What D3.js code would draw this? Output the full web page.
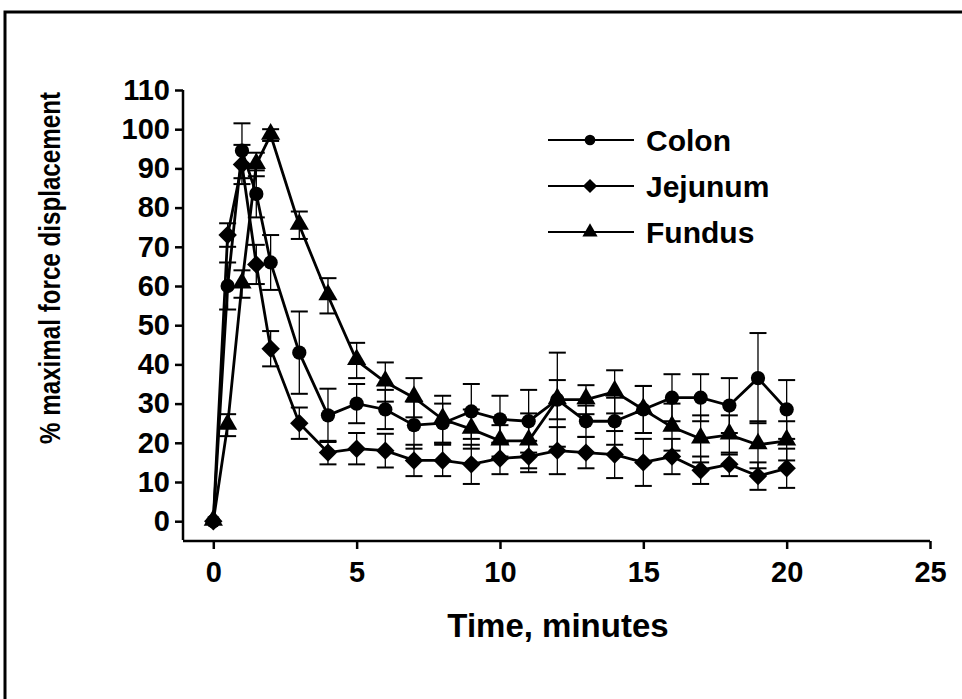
<!DOCTYPE html>
<html>
<head>
<meta charset="utf-8">
<script src="https://cdn.jsdelivr.net/npm/d3@7"></script>
<style>
  body { margin: 0; background: #fff; }
  svg { display: block; }
  text { font-family: "Liberation Sans", Arial, sans-serif; font-weight: bold; fill: #000; }
</style>
</head>
<body>
<svg class="chart" width="962" height="699"></svg>
<script>
// minutes after stimulation
var times = [0, 0.5, 1, 1.5, 2, 3, 4, 5, 6, 7, 8, 9, 10, 11, 12, 13, 14, 15, 16, 17, 18, 19, 20]

var colon     = [0, 60, 94.5, 83.5, 66, 43, 27, 30, 28.5, 24.5, 25, 28, 26, 25.5, 31, 25.5, 25.5, 28.5, 31.5, 31.5, 29.5, 36.5, 28.5]
var colon_err = [0, 6, 7, 6, 7, 10.5, 6.8, 5, 5, 6, 5, 7, 6, 8, 12, 4, 6, 6, 6, 6, 7, 11.5, 7.5]

var jejunum     = [0, 73, 91, 65.5, 44, 25, 17.5, 18.5, 18, 15.5, 15.5, 14.5, 16, 16.5, 18, 17.5, 17, 15, 16.5, 13, 14.5, 11.5, 13.5]
var jejunum_err = [0, 3, 5, 5, 4.5, 4, 3, 4, 4.3, 4, 4, 5, 4, 4, 6, 4, 6, 6, 4.5, 3.5, 3, 3.5, 5]

var fundus     = [0, 24.5, 60.5, 91, 98.5, 75.5, 57.5, 41, 35.5, 31.5, 26, 23.5, 20.5, 20.5, 31, 31, 33, 28.5, 24, 21, 22, 19.5, 20.5]
var fundus_err = [0, 2.8, 3.5, 3, 1.5, 3.5, 4.5, 4.5, 5, 5, 6, 5, 4, 7, 5, 3.7, 5.5, 6, 6, 6, 5, 6, 5]

var series_names = ["Colon", "Jejunum", "Fundus"]
var x_ticks = [0, 5, 10, 15, 20, 25]
var y_ticks = [0, 10, 20, 30, 40, 50, 60, 70, 80, 90, 100, 110]

var svg = d3.select(".chart")

// frame around the figure
svg.append("rect")
  .attr("x", 5).attr("y", 12)
  .attr("width", 970).attr("height", 700)
  .attr("fill", "none").attr("stroke", "#000").attr("stroke-width", 3)

var x_scaler = d3.scaleLinear().domain([0, 25]).range([213.3, 930])
var y_scaler = d3.scaleLinear().domain([0, 110]).range([521.2, 90])

var axis_y0 = 541   // where the x axis sits
var axis_x0 = 183   // where the y axis sits

// x axis
var xa = svg.append("g")
  .attr("transform", "translate(0," + axis_y0 + ")")
  .call(d3.axisBottom(x_scaler).tickValues(x_ticks).tickSize(8).tickSizeOuter(0).tickPadding(12))
xa.select(".domain").attr("d", "M" + axis_x0 + ",0H" + x_scaler(25))
xa.selectAll("line, path").attr("stroke", "#000").attr("stroke-width", 2.5)
xa.selectAll("text").style("font-size", "29px").attr("fill", "#000")

// y axis
var ya = svg.append("g")
  .attr("transform", "translate(" + axis_x0 + ",0)")
  .call(d3.axisLeft(y_scaler).tickValues(y_ticks).tickSize(8).tickSizeOuter(0).tickPadding(5))
ya.select(".domain").attr("d", "M0," + y_scaler(110) + "V" + (axis_y0 - 1))
ya.selectAll("line, path").attr("stroke", "#000").attr("stroke-width", 2.5)
ya.selectAll("text").style("font-size", "29px").attr("fill", "#000")

svg.append("text")
  .attr("x", 558).attr("y", 637)
  .attr("text-anchor", "middle")
  .style("font-size", "33px")
  .text("Time, minutes")

// the original lettering is condensed, so squeeze the title to its length
svg.append("text")
  .attr("transform", "translate(60,268) rotate(-90)")
  .attr("text-anchor", "middle")
  .attr("textLength", 352)
  .attr("lengthAdjust", "spacingAndGlyphs")
  .style("font-size", "29px")
  .text("% maximal force displacement")

var diamond = {
  draw: function(ctx, size) {
    var r = Math.sqrt(size / 2)
    ctx.moveTo(0, -r); ctx.lineTo(r, 0); ctx.lineTo(0, r); ctx.lineTo(-r, 0); ctx.closePath()
  }
}

var all_series = [
  {name: series_names[0], vals: colon, err: colon_err, shape: d3.symbolCircle, size: 160, legend_size: 90},
  {name: series_names[1], vals: jejunum, err: jejunum_err, shape: diamond, size: 170, legend_size: 100},
  {name: series_names[2], vals: fundus, err: fundus_err, shape: d3.symbolTriangle, size: 160, legend_size: 100}
]

function points(s) {
  return times.map(function(t, i) { return {t: t, v: s.vals[i], e: s.err[i]} })
}

// error bars
all_series.forEach(function(s) {
  var g = svg.append("g").attr("class", "err")
  var pts = points(s).filter(function(d) { return d.e > 0 })
  g.selectAll(".stem").data(pts).enter().append("line")
    .attr("x1", function(d) { return x_scaler(d.t) })
    .attr("x2", function(d) { return x_scaler(d.t) })
    .attr("y1", function(d) { return y_scaler(d.v + d.e) })
    .attr("y2", function(d) { return y_scaler(d.v - d.e) })
    .attr("stroke", "#000").attr("stroke-width", 1.3)
  ;[1, -1].forEach(function(sign) {
    g.selectAll(".cap" + sign).data(pts).enter().append("line")
      .attr("x1", function(d) { return x_scaler(d.t) - 8.5 })
      .attr("x2", function(d) { return x_scaler(d.t) + 8.5 })
      .attr("y1", function(d) { return y_scaler(d.v + sign * d.e) })
      .attr("y2", function(d) { return y_scaler(d.v + sign * d.e) })
      .attr("stroke", "#000").attr("stroke-width", 2)
  })
})

var line = d3.line()
  .x(function(d) { return x_scaler(d.t) })
  .y(function(d) { return y_scaler(d.v) })

all_series.forEach(function(s) {
  svg.append("path")
    .datum(points(s))
    .attr("d", line)
    .attr("fill", "none")
    .attr("stroke", "#000")
    .attr("stroke-width", 2.8)
})

all_series.forEach(function(s) {
  var sym = d3.symbol().type(s.shape).size(s.size)
  svg.selectAll(null).data(points(s)).enter().append("path")
    .attr("d", sym())
    .attr("transform", function(d) {
      var dy = s.shape === d3.symbolTriangle ? -1 : 0
      return "translate(" + x_scaler(d.t) + "," + (y_scaler(d.v) + dy) + ")" })
    .attr("fill", "#000")
})

// legend
var legend = svg.append("g").attr("class", "legend")
all_series.forEach(function(s, i) {
  var y = 140 + i * 46
  legend.append("line")
    .attr("x1", 548).attr("x2", 634).attr("y1", y).attr("y2", y)
    .attr("stroke", "#000").attr("stroke-width", 2)
  legend.append("path")
    .attr("d", d3.symbol().type(s.shape).size(s.legend_size)())
    .attr("transform", "translate(590," + y + ")")
    .attr("fill", "#000")
  legend.append("text")
    .attr("x", 646).attr("y", y + 11)
    .style("font-size", "30px")
    .text(s.name)
})
</script>
</body>
</html>
